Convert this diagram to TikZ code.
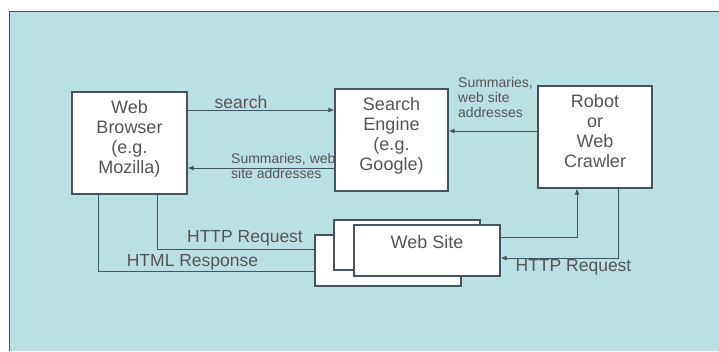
\documentclass[tikz,border=0pt]{standalone}
\usepackage{fontspec}
\setmainfont{Liberation Sans}
\usetikzlibrary{arrows.meta,positioning}
\definecolor{panelblue}{RGB}{186,224,228}
\definecolor{framegray}{RGB}{70,84,94}
\definecolor{textgray}{RGB}{85,85,85}

\begin{document}
\begin{tikzpicture}[x=1pt,y=-1pt,
    box/.style={draw=framegray,fill=white,line width=1.1pt,inner sep=0pt,align=center,
      text=textgray,font=\fontsize{18}{20}\selectfont,text depth=12pt},
    sitebox/.style={draw=framegray,fill=white,line width=1.1pt,minimum width=146pt,minimum height=51pt,inner sep=0pt},
    conn/.style={draw=framegray,line width=1pt},
    arr/.style={conn,-{Latex[length=6pt,width=5pt]}},
    lbl/.style={text=textgray,font=\fontsize{17.5}{20}\selectfont,inner sep=0pt},
    small/.style={text=textgray,font=\fontsize{14}{15}\selectfont,inner sep=0pt,align=left}]
  \useasboundingbox (0,0) rectangle (719,351);
  \fill[white] (0,0) rectangle (719,351);
  \fill[panelblue] (9.5,11.5) rectangle (719,351);
  \draw[framegray,line width=1.6pt] (9.5,351) -- (9.5,11.5) -- (719,11.5);
  % the three boxes
  \node[box,minimum width=115pt,minimum height=102pt] (browser) at (129.5,143) {Web\\Browser\\(e.g.\\Mozilla)};
  \node[box,minimum width=113pt,minimum height=102pt] (engine) at (391.5,140) {Search\\Engine\\(e.g.\\Google)};
  \node[box,minimum width=114pt,minimum height=102pt] (robot) at (595,137) {Robot\\or\\Web\\Crawler};
  % stack of web sites
  \node[sitebox] (siteback) at (388,260.5) {};
  \node[sitebox,minimum height=50pt] (sitemid) at (407,245) {};
  \node[sitebox] (sitefront) at (427,250.5) {};
  \node[lbl,font=\fontsize{18}{20}\selectfont] (sitetext) at (427,242) {Web Site};
  % browser <-> engine
  \draw[arr] ([yshift=33pt]browser.east) -- ([yshift=33pt]browser.east -| engine.west);
  \node[lbl] (searchlbl) at (241,102) {search};
  \draw[arr] ([yshift=-28pt]engine.west) -- ([yshift=-28pt]engine.west -| browser.east);
  \node[small,anchor=west] (summlbl) at (231,166) {Summaries, web\\site addresses};
  % robot -> engine
  \draw[arr] ([yshift=6pt]robot.west) -- ([yshift=6pt]robot.west -| engine.east);
  \node[small,anchor=west] (robotlbl) at (458,97) {Summaries,\\web site\\addresses};
  % browser <-> web site
  \draw[conn] ([xshift=27.5pt]browser.south) |- ([yshift=11.5pt]siteback.west);
  \node[lbl] (reqlbl) at (245,238) {HTTP Request};
  \draw[conn] ([xshift=-31.5pt]browser.south) |- ([yshift=-10.5pt]siteback.west);
  \node[lbl] (resplbl) at (192.5,262) {HTML Response};
  % robot <-> web site
  \draw[arr] ([yshift=13.5pt]sitefront.east) -| ([xshift=-18pt]robot.south);
  \draw[arr] ([xshift=23pt]robot.south) |- ([yshift=-7.5pt]sitefront.east);
  \node[lbl] (robotreq) at (573.5,267) {HTTP Request};
\end{tikzpicture}
\end{document}
